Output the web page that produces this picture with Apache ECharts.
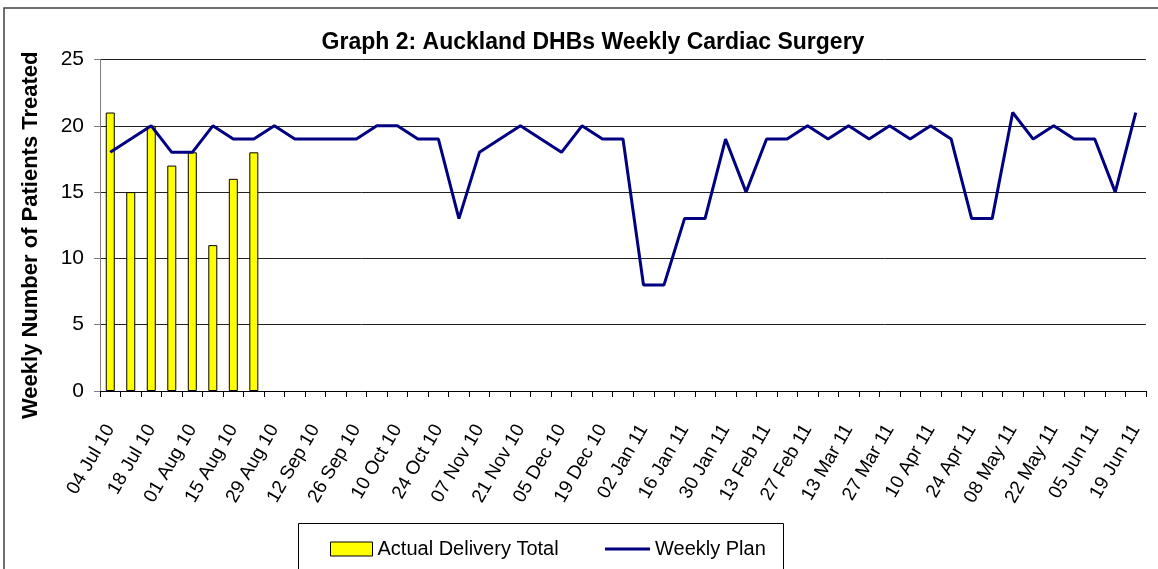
<!DOCTYPE html>
<html lang="en">
<head>
    <meta charset="utf-8">
    <title>Graph 2: Auckland DHBs Weekly Cardiac Surgery</title>
    <script src="https://cdn.jsdelivr.net/npm/echarts@6/dist/echarts.min.js"></script>
    <style>
        body {
            margin: 0;
            background: #fff;
        }

        #chart {
            width: 1158px;
            height: 569px;
        }
    </style>
</head>
<body>
<div id="chart"></div>
<script>
    // week starting dates
    const weeks = [
        '04 Jul 10', '11 Jul 10', '18 Jul 10', '25 Jul 10', '01 Aug 10', '08 Aug 10', '15 Aug 10', '22 Aug 10',
        '29 Aug 10', '05 Sep 10', '12 Sep 10', '19 Sep 10', '26 Sep 10', '03 Oct 10', '10 Oct 10', '17 Oct 10',
        '24 Oct 10', '31 Oct 10', '07 Nov 10', '14 Nov 10', '21 Nov 10', '28 Nov 10', '05 Dec 10', '12 Dec 10',
        '19 Dec 10', '26 Dec 10', '02 Jan 11', '09 Jan 11', '16 Jan 11', '23 Jan 11', '30 Jan 11', '06 Feb 11',
        '13 Feb 11', '20 Feb 11', '27 Feb 11', '06 Mar 11', '13 Mar 11', '20 Mar 11', '27 Mar 11', '03 Apr 11',
        '10 Apr 11', '17 Apr 11', '24 Apr 11', '01 May 11', '08 May 11', '15 May 11', '22 May 11', '29 May 11',
        '05 Jun 11', '12 Jun 11', '19 Jun 11'
    ];
    const actualTotal = [21, 15, 20, 17, 18, 11, 16, 18];
    const weeklyPlan = [
        18, 19, 20, 18, 18, 20, 19, 19, 20, 19,
        19, 19, 19, 20, 20, 19, 19, 13, 18, 19,
        20, 19, 18, 20, 19, 19, 8, 8, 13, 13,
        19, 15, 19, 19, 20, 19, 20, 19, 20, 19,
        20, 19, 13, 13, 21, 19, 20, 19, 19, 15, 21
    ];

    const font = 'Liberation Sans, Arial, sans-serif';
    const chart = echarts.init(document.getElementById('chart'), null, {renderer: 'canvas'});
    const option = {
        animation: false,
        backgroundColor: '#fff',
        title: {
            text: 'Graph 2: Auckland DHBs Weekly Cardiac Surgery',
            left: 588,
            top: 26,
            textAlign: 'center',
            textStyle: {fontFamily: font, fontSize: 23, fontWeight: 'bold', color: '#000'}
        },
        graphic: [
            // outer frame (only left and top are visible in the picture)
            {type: 'rect', shape: {x: 4, y: 8, width: 1300, height: 700}, style: {fill: null, stroke: '#404040', lineWidth: 1.5}},
            // legend frame
            {type: 'rect', shape: {x: 298.5, y: 523.5, width: 485, height: 60}, style: {fill: null, stroke: '#000', lineWidth: 1}}
        ],
        legend: [{
            data: [{name: 'Actual Delivery Total', icon: 'rect'}],
            left: 325,
            top: 534,
            itemWidth: 42,
            itemHeight: 14,
            itemStyle: {borderColor: '#000', borderWidth: 1},
            textStyle: {fontFamily: font, fontSize: 20, color: '#000'}
        }, {
            data: [{name: 'Weekly Plan', icon: 'rect'}],
            left: 600,
            top: 534,
            itemWidth: 45,
            itemHeight: 3,
            textStyle: {fontFamily: font, fontSize: 20, color: '#000'}
        }],
        grid: {left: 100, right: 12, top: 59.5, bottom: 178},
        xAxis: {
            type: 'category',
            data: weeks,
            boundaryGap: true,
            axisLine: {lineStyle: {color: '#000', width: 1}},
            axisTick: {show: true, interval: 0, length: 6, lineStyle: {color: '#000'}},
            axisLabel: {
                interval: 1,
                rotate: 60,
                margin: 35,
                fontFamily: font,
                fontSize: 19,
                color: '#000'
            }
        },
        yAxis: {
            type: 'value',
            min: 0,
            max: 25,
            interval: 5,
            name: 'Weekly Number of Patients Treated',
            nameLocation: 'middle',
            nameGap: 58,
            nameTextStyle: {fontFamily: font, fontSize: 22, fontWeight: 'bold', color: '#000', padding: [0, 20, 0, 0]},
            axisLine: {show: true, lineStyle: {color: '#808080', width: 1}},
            axisTick: {show: true, length: 6, lineStyle: {color: '#808080'}},
            axisLabel: {margin: 16, fontFamily: font, fontSize: 21, color: '#000'},
            splitLine: {lineStyle: {color: '#222', width: 1}}
        },
        series: [{
            name: 'Actual Delivery Total',
            type: 'bar',
            data: actualTotal,
            barWidth: 9,
            itemStyle: {color: '#ffff00', borderColor: '#000', borderWidth: 1}
        }, {
            name: 'Weekly Plan',
            type: 'line',
            data: weeklyPlan,
            showSymbol: false,
            symbol: 'none',
            z: 5,
            itemStyle: {color: '#000080'},
            lineStyle: {color: '#000080', width: 3}
        }]
    };
    chart.setOption(option);
</script>
</body>
</html>
